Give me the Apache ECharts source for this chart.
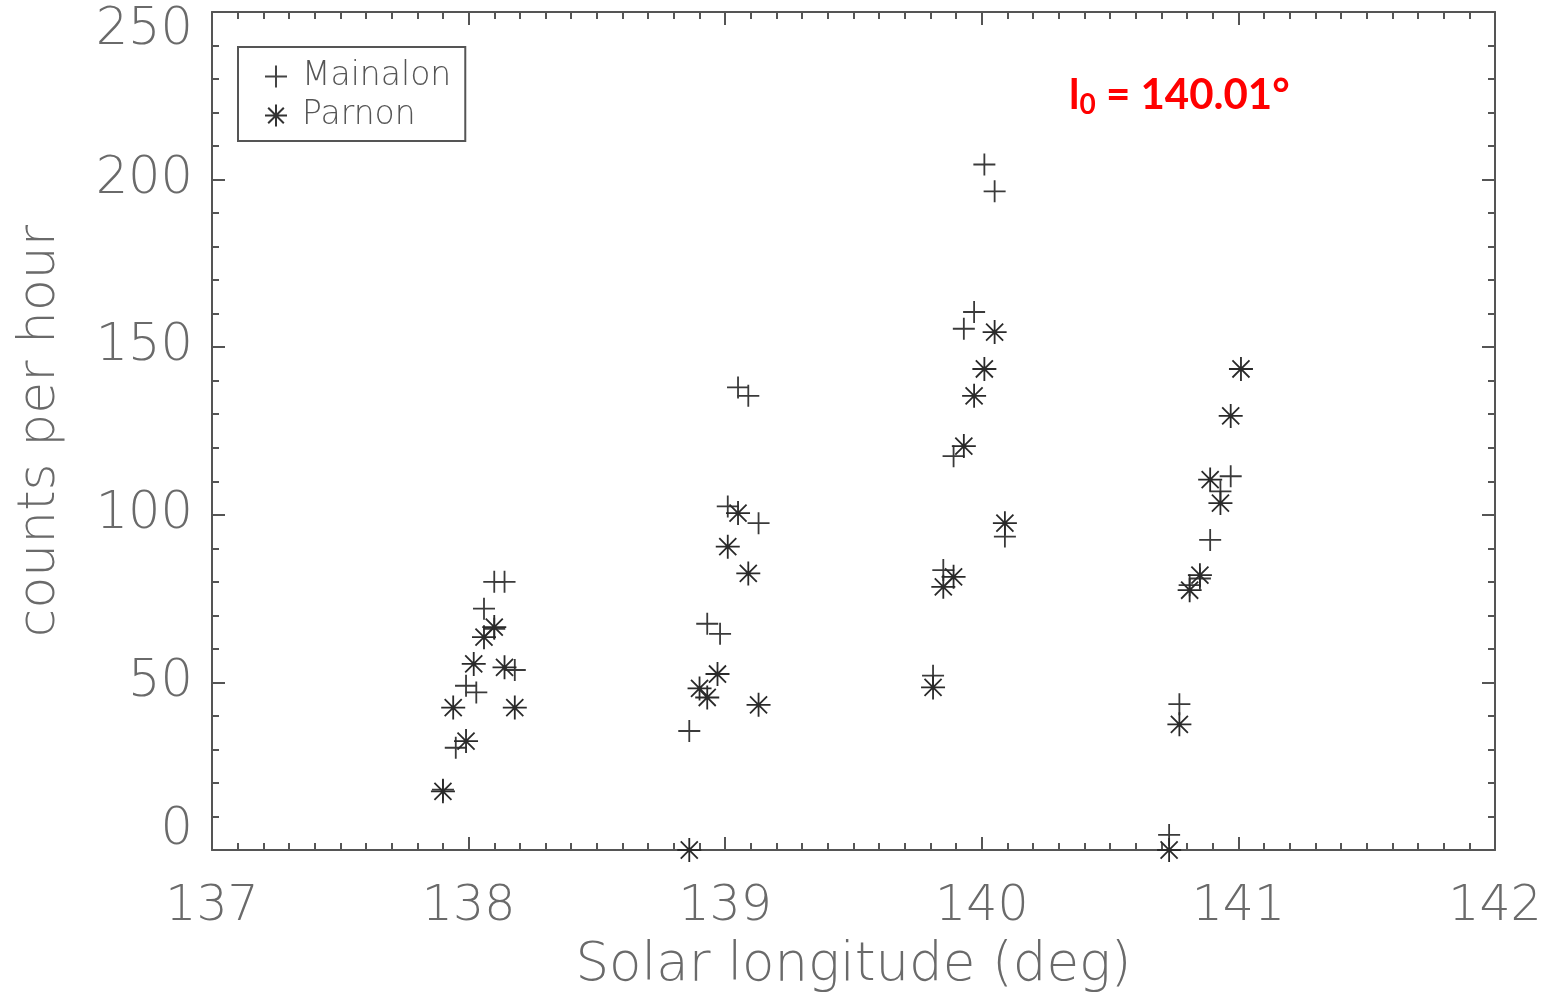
<!DOCTYPE html>
<html>
<head>
<meta charset="utf-8">
<script src="https://cdn.jsdelivr.net/npm/echarts@6/dist/echarts.min.js"></script>
<style>html,body{margin:0;padding:0;background:#fff;}#c{width:1552px;height:994px;}</style>
</head>
<body>
<div id="c"></div>
<script>
// Mainalon (+)
var mainalonX = [138.10,138.14,138.06,138.10,138.18,137.99,138.03,137.95,137.90,
                 139.05,139.09,139.01,139.13,138.93,138.98,138.86,
                 140.01,140.05,139.97,139.93,139.89,140.09,139.85,139.81,
                 140.97,140.93,140.89,140.85,140.81,140.77,140.73];
var mainalonY = [80,80,72,66,53.7,49,47,30.5,18,
                 138,135.5,102.5,97.5,67.5,64.5,35.5,
                 204.5,196.5,160.5,155.5,117.5,93.5,83.5,52,
                 111.5,107,92.5,81,79,43.5,4.5];
// Parnon (*)
var parnonX = [138.10,138.06,138.02,138.14,137.94,138.18,137.99,137.90,
               139.05,139.01,139.09,138.97,138.90,138.93,139.13,138.86,
               140.05,140.01,139.97,139.93,140.09,139.89,139.85,139.81,
               141.01,140.97,140.89,140.93,140.85,140.81,140.77,140.73];
var parnonY = [66.5,63.5,55.5,54.5,42.5,42.5,32.5,17.5,
               100.5,90.5,82.5,52.5,48.2,45.5,43.3,0,
               154.5,143.5,135.5,120.5,97.5,81.5,78.5,48.5,
               143.5,129.5,110.5,103.5,82,77.5,37.5,0];
var xTicks = [137,138,139,140,141,142];
var yTicks = [0,50,100,150,200,250];

function pairs(xs, ys){ return xs.map(function(x,i){ return [x, ys[i]]; }); }

var plusPath = 'path://M0,10L20,10M10,0L10,20';
var starPath = 'path://M10,0L10,20M0,10L20,10M2.9,2.9L17.1,17.1M17.1,2.9L2.9,17.1';
var frameColor = '#555';
var textColor = '#6a6a6a';
var fontFam = 'DejaVu Sans';

function xAx(pos, showLabel){
  return {
    type:'value', position:pos, min:137, max:142, interval:1,
    axisLine:{show:true, onZero:false, lineStyle:{color:frameColor, width:2}},
    axisTick:{show:true, inside:true, length:13, lineStyle:{color:frameColor, width:2}},
    minorTick:{show:true, splitNumber:10, length:7, lineStyle:{color:frameColor, width:2}},
    splitLine:{show:false},
    axisLabel:{show:showLabel, margin:33, fontSize:49, fontWeight:200, color:textColor, fontFamily:fontFam,
      formatter:function(v){ return xTicks.indexOf(v) >= 0 ? String(v) : ''; }},
    name: showLabel ? 'Solar longitude (deg)' : '',
    nameLocation:'middle', nameGap:90,
    nameTextStyle:{fontSize:53, fontWeight:200, color:textColor, fontFamily:fontFam}
  };
}
function yAx(pos, showLabel){
  return {
    type:'value', position:pos, min:0, max:250, interval:50,
    axisLine:{show:true, onZero:false, lineStyle:{color:frameColor, width:2}},
    axisTick:{show:true, inside:true, length:13, lineStyle:{color:frameColor, width:2}},
    minorTick:{show:true, splitNumber:5, length:7, lineStyle:{color:frameColor, width:2}},
    splitLine:{show:false},
    axisLabel:{show:showLabel, margin:19, fontSize:51, lineHeight:38, fontWeight:200, color:textColor, fontFamily:fontFam,
      verticalAlignMinLabel:'bottom', verticalAlignMaxLabel:'top',
      formatter:function(v){ return yTicks.indexOf(v) >= 0 ? String(v) : ''; }},
    name: showLabel ? 'counts per hour' : '',
    nameLocation:'middle', nameGap:146,
    nameTextStyle:{fontSize:52, fontWeight:200, color:textColor, fontFamily:fontFam}
  };
}

var chart = echarts.init(document.getElementById('c'), null, {renderer:'canvas'});
chart.setOption({
  animation:false,
  backgroundColor:'#fff',
  grid:{left:212, right:57, top:12, bottom:144, containLabel:false, outerBoundsMode:'none'},
  xAxis:[xAx('bottom', true), xAx('top', false)],
  yAxis:[yAx('left', true), yAx('right', false)],
  legend:{
    show:true, orient:'vertical', left:238, top:47,
    padding:[13,14,9,26], itemWidth:22, itemHeight:22, itemGap:6,
    borderColor:'#555', borderWidth:2, backgroundColor:'#fff',
    textStyle:{fontSize:33, lineHeight:30, fontWeight:200, color:'#555', fontFamily:fontFam, padding:[0,0,0,10]},
    data:[
      {name:'Mainalon', icon:plusPath, itemStyle:{color:'transparent', borderColor:'#444', borderWidth:2}},
      {name:'Parnon', icon:starPath, itemStyle:{color:'transparent', borderColor:'#333', borderWidth:2}}
    ]
  },
  series:[
    {name:'Mainalon', type:'scatter', xAxisIndex:0, yAxisIndex:0, symbol:plusPath, symbolSize:22,
      itemStyle:{color:'transparent', borderColor:'#3a3a3a', borderWidth:1.8, opacity:1},
      data:pairs(mainalonX, mainalonY), clip:false},
    {name:'Parnon', type:'scatter', xAxisIndex:0, yAxisIndex:0, symbol:starPath, symbolSize:24,
      itemStyle:{color:'transparent', borderColor:'#2a2a2a', borderWidth:1.8, opacity:1},
      data:pairs(parnonX, parnonY), clip:false}
  ],
  graphic:[{
    type:'text', left:1069, top:74, z:100,
    style:{
      text:'{a|l}{b|0}{a| = 140.01°}',
      rich:{
        a:{fontSize:42, fontWeight:'bold', fill:'#ff0000', fontFamily:'Lato'},
        b:{fontSize:28, fontWeight:'bold', fill:'#ff0000', fontFamily:'Lato', verticalAlign:'bottom', padding:[20,0,0,0]}
      }
    }
  }]
});
</script>
</body>
</html>
